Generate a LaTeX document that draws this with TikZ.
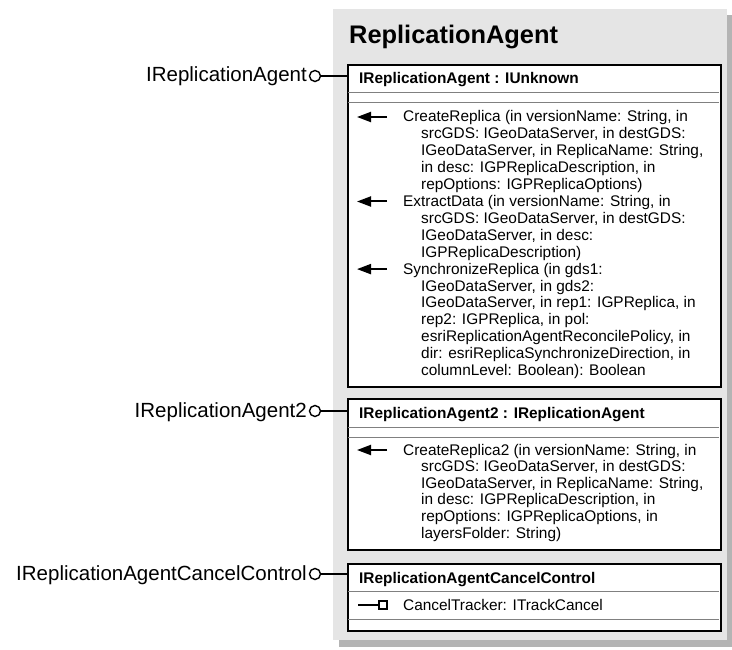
\documentclass[tikz,border=0pt]{standalone}
\usepackage{fontspec}
\setmainfont{Liberation Sans}
\usetikzlibrary{arrows.meta,calc}
\definecolor{panelgray}{HTML}{E5E5E5}
\definecolor{shadowgray}{HTML}{B4B4B4}
\definecolor{divgray}{HTML}{808080}
\newcommand\mlines[5]{%
  \foreach \t [count=\i from 0] in {#5} {%
    \pgfmathsetmacro\xx{#2+(\i>0)*18}%
    \pgfmathsetmacro\yy{#3+\i*#4}%
    \node[body] (#1-\i) at (\xx,\yy) {\t};
  }}
\begin{document}
\begin{tikzpicture}[x=1pt,y=-1pt,
  umlbox/.style={draw=black, line width=1.6pt, fill=white, anchor=north west, minimum width=373pt, inner sep=0pt},
  divider/.style={draw=divgray, line width=1pt},
  body/.style={font=\fontsize{15.4}{16.9}\selectfont, inner sep=0pt, anchor=base west},
  headtext/.style={font=\bfseries\fontsize{15.4}{16.9}\selectfont, inner sep=0pt, anchor=base west},
  titletext/.style={font=\bfseries\fontsize{25.4}{28}\selectfont, inner sep=0pt, anchor=base west},
  iflabel/.style={font=\fontsize{20.5}{24}\selectfont, inner sep=0pt, anchor=base east},
  lolli/.style={circle, draw=black, line width=1.4pt, fill=white, minimum size=11pt, inner sep=0pt},
  conn/.style={draw=black, line width=1.5pt},
  methicon/.style={draw=black, line width=2pt, -{Triangle[length=14pt,width=10pt]}},
  propicon/.style={draw=black, line width=1.5pt}
]
\useasboundingbox (0,0) rectangle (732,650);
% panel with shadow
\fill[shadowgray] (339,15) rectangle (732,647);
\fill[panelgray] (333,9) rectangle (727,640);
\node[titletext] (title) at (349,44) {ReplicationAgent};

% boxes
\node[umlbox, minimum height=322pt] (box1) at (347,64) {};
\node[umlbox, minimum height=151pt] (box2) at (347,398) {};
\node[umlbox, minimum height=67pt] (box3) at (347,563) {};

% dividers
\draw[divider] (348,93) -- (719,93);
\draw[divider] (348,103) -- (719,103);
\draw[divider] (348,427) -- (719,427);
\draw[divider] (348,437) -- (719,437);
\draw[divider] (348,591) -- (719,591);
\draw[divider] (348,619) -- (719,619);

% headers
\node[headtext] (h1) at (359,84) {IReplicationAgent : IUnknown};
\node[headtext] (h2) at (359,418) {IReplicationAgent2 : IReplicationAgent};
\node[headtext] (h3) at (359,583) {IReplicationAgentCancelControl};

% lollipops
\node[lolli] (c1) at (315,76) {};
\node[lolli] (c2) at (315,411) {};
\node[lolli] (c3) at (315,574) {};
\draw[conn] (c1) -- (c1 -| box1.west);
\draw[conn] (c2) -- (c2 -| box2.west);
\draw[conn] (c3) -- (c3 -| box3.west);
\node[iflabel] (l1) at (307,82) {IReplicationAgent};
\node[iflabel] (l2) at (307,417) {IReplicationAgent2};
\node[iflabel] (l3) at (307,580) {IReplicationAgentCancelControl};

% box 1 methods
\mlines{ca}{403}{122}{16.9}{{CreateReplica (in versionName: String, in},{srcGDS: IGeoDataServer, in destGDS:},{IGeoDataServer, in ReplicaName: String,},{in desc: IGPReplicaDescription, in},{repOptions: IGPReplicaOptions)}}
\mlines{ed}{403}{206.5}{16.9}{{ExtractData (in versionName: String, in},{srcGDS: IGeoDataServer, in destGDS:},{IGeoDataServer, in desc:},{IGPReplicaDescription)}}
\mlines{sr}{403}{274.1}{16.9}{{SynchronizeReplica (in gds1:},{IGeoDataServer, in gds2:},{IGeoDataServer, in rep1: IGPReplica, in},{rep2: IGPReplica, in pol:},{esriReplicationAgentReconcilePolicy, in},{dir: esriReplicaSynchronizeDirection, in},{columnLevel: Boolean): Boolean}}
\draw[methicon] (387,117) -- (357,117);
\draw[methicon] (387,201.5) -- (357,201.5);
\draw[methicon] (387,269.1) -- (357,269.1);

% box 2 methods
\mlines{cb}{403}{455}{16.6}{{CreateReplica2 (in versionName: String, in},{srcGDS: IGeoDataServer, in destGDS:},{IGeoDataServer, in ReplicaName: String,},{in desc: IGPReplicaDescription, in},{repOptions: IGPReplicaOptions, in},{layersFolder: String)}}
\draw[methicon] (387,450) -- (357,450);

% box 3 property
\node[body] (ct) at (403,610) {CancelTracker: ITrackCancel};
\draw[propicon] (358,605) -- (379,605);
\draw[propicon, fill=white] (379,601) rectangle (387,609);
\end{tikzpicture}
\end{document}
